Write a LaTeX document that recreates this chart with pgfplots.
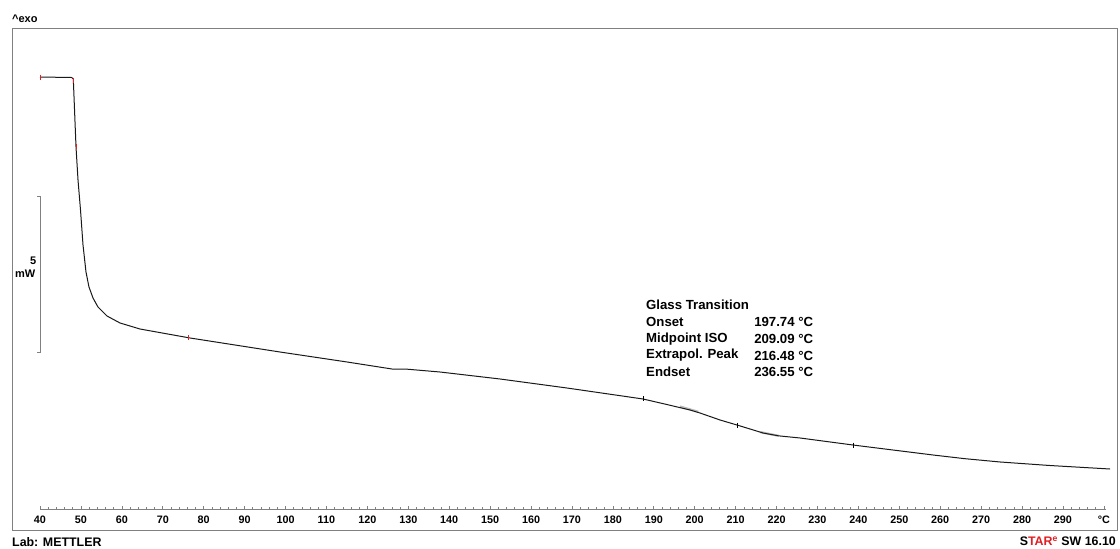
\documentclass[border=0pt]{standalone}
\usepackage{fontspec}
\setmainfont{Liberation Sans}
\usepackage{pgfplots}
\pgfplotsset{compat=1.18}
\definecolor{framegray}{RGB}{128,128,128}
\definecolor{starred}{RGB}{225,30,35}
\definecolor{curvecol}{RGB}{25,25,25}
\begin{document}
\begin{tikzpicture}[x=1pt,y=1pt]
\useasboundingbox (0,0) rectangle (1120,549);
% main frame + curve
\begin{axis}[
  at={(12pt,19pt)}, anchor=south west,
  scale only axis, width=1105pt, height=502pt,
  xmin=33.157, xmax=303.2, ymin=0.032, ymax=16.122,
  xtick=\empty, ytick=\empty,
  axis line style={framegray, line width=0.8pt},
  clip=false,
]
\addplot[gray!55, line width=2.2pt] coordinates {(196.4,3.99) (200.9,3.82)};
\addplot[gray!55, line width=2.2pt] coordinates {(216.0,3.17) (220.5,3.05)};
\addplot[curvecol, line width=1pt] coordinates {
(40.00,14.551) (47.75,14.535) (48.14,14.487) (48.80,12.308) (49.29,11.250)
(49.90,10.288) (50.51,9.167) (51.24,8.301) (51.97,7.821) (52.95,7.468)
(54.17,7.179) (56.37,6.891) (59.55,6.667) (64.44,6.474) (76.66,6.186)
(98.65,5.737) (115.03,5.417) (126.02,5.192) (129.20,5.192) (137.75,5.096)
(152.42,4.872) (168.79,4.583) (187.36,4.231) (193.00,4.060) (198.85,3.878) (201.29,3.782)
(206.18,3.558) (210.33,3.397) (214.00,3.250) (216.69,3.141) (220.50,3.050) (225.73,2.981) (238.68,2.756)
(248.45,2.596) (258.23,2.436) (266.00,2.318) (274.60,2.212) (286.80,2.099) (301.49,1.987)
};
\addplot[only marks, mark=|, starred, mark size=2.5pt, mark options={line width=0.9pt}] coordinates {
(40.0,14.551) (48.2,14.45) (48.8,12.308) (76.4,6.19)
};
\addplot[only marks, mark=|, black, mark size=2.5pt, mark options={line width=0.8pt}] coordinates {
(187.36,4.231) (210.33,3.397) (238.68,2.756)
};
\end{axis}
% temperature scale
\begin{axis}[
  at={(40pt,40pt)}, anchor=south west,
  scale only axis, width=1065.97pt, height=20pt,
  xmin=40, xmax=300.5, ymin=0, ymax=1,
  axis y line=none, axis x line*=bottom,
  x axis line style={framegray, line width=0.6pt},
  xtick={40,50,...,300},
  xticklabels={40,50,60,70,80,90,100,110,120,130,140,150,160,170,180,190,200,210,220,230,240,250,260,270,280,290,°C},
  minor x tick num=4,
  tick align=inside,
  major tick length=3pt, minor tick length=2pt,
  tick style={framegray, line width=0.6pt},
  xticklabel style={font=\bfseries\fontsize{10.8}{12}\selectfont, anchor=center, yshift=-11pt, inner sep=0pt},
]
\end{axis}
% texts
\node[anchor=west, inner sep=0, font=\bfseries\fontsize{11}{12}\selectfont] at (12,530) {\^{}exo};
\draw[framegray, line width=0.8pt] (37,353) -- (40,353) -- (40,197) -- (37,197);
\node[anchor=east, inner sep=0, font=\bfseries\fontsize{11}{12}\selectfont] at (36.5,288) {5};
\node[anchor=east, inner sep=0, font=\bfseries\fontsize{11}{12}\selectfont] at (35.5,275) {mW};
\begin{scope}[every node/.style={inner sep=0, font=\bfseries\fontsize{13.2}{14}\selectfont}]
\node[anchor=west] at (646,244) {Glass Transition};
\node[anchor=west] at (646,226.7) {Onset};
\node[anchor=west] at (646,210) {Midpoint ISO};
\node[anchor=west] at (646,193.5) {Extrapol. Peak};
\node[anchor=west] at (646,177.3) {Endset};
\node[anchor=east] at (813.3,226.7) {197.74 °C};
\node[anchor=east] at (813.3,210) {209.09 °C};
\node[anchor=east] at (813.3,193.5) {216.48 °C};
\node[anchor=east] at (813.3,177.3) {236.55 °C};
\end{scope}
\node[anchor=west, inner sep=0, font=\bfseries\fontsize{12.4}{14}\selectfont] at (12,7) {Lab: METTLER};
\node[anchor=east, inner sep=0, font=\bfseries\fontsize{12.4}{14}\selectfont] at (1116,8) {S\textcolor{starred}{TAR\textsuperscript{e}} SW 16.10};
\end{tikzpicture}
\end{document}
